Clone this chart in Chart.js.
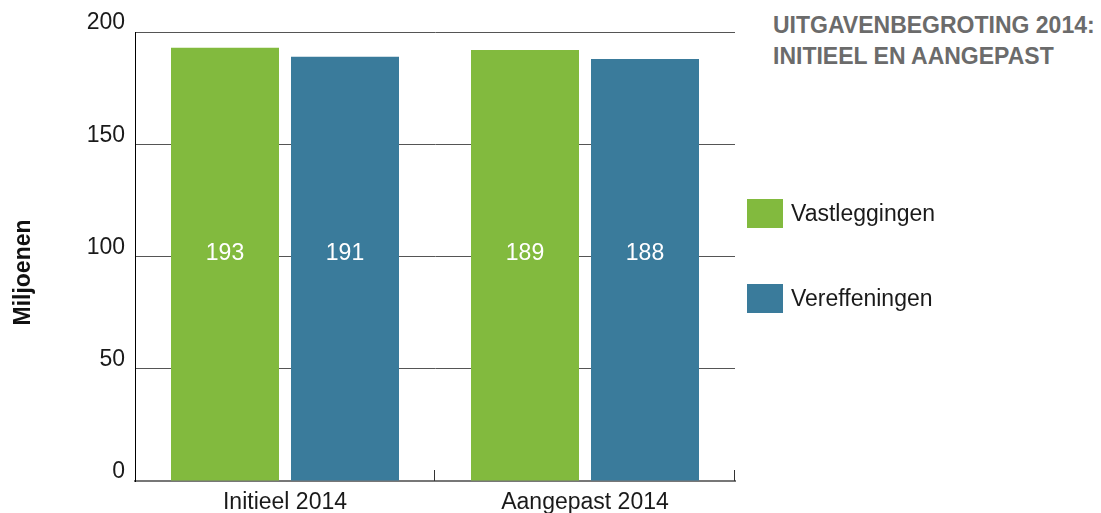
<!DOCTYPE html>
<html>
<head>
<meta charset="utf-8">
<script src="https://cdn.jsdelivr.net/npm/chart.js@4/dist/chart.umd.min.js"></script>
<style>
  body { margin: 0; width: 1101px; height: 513px; background: #fff; position: relative; overflow: hidden;
         font-family: 'Liberation Sans', Arial, sans-serif; }
  #wrap { position: absolute; left: 0; top: 0; width: 760px; height: 513px; }
  #title { position: absolute; left: 773px; top: 10px; font-size: 23px; line-height: 31px; font-weight: bold; color: #6b6b6b; }
  .item { position: absolute; left: 747px; display: flex; align-items: center; font-size: 23px; color: #1a1a1a; }
  .item span.box { width: 36px; height: 29px; margin-right: 8px; display: inline-block; }
</style>
</head>
<body>
<div id="wrap"><canvas id="chart" width="760" height="513"></canvas></div>
<div id="title">UITGAVENBEGROTING 2014:<br>INITIEEL EN AANGEPAST</div>
<div id="legend"></div>
<script>
const categories = ['Initieel 2014', 'Aangepast 2014'];
const seriesNames = ['Vastleggingen', 'Vereffeningen'];
const vastleggingen = [193, 192];
const vereffeningen = [189, 188];
const vastleggingenLabels = ['193', '189'];
const vereffeningenLabels = ['191', '188'];
const yTicks = [0, 50, 100, 150, 200];
const yTitle = 'Miljoenen';

const GREEN = '#82ba3e';
const BLUE = '#3a7b9b';
const FONT = "'Liberation Sans', Arial, sans-serif";

// html legend on the right
const legendEl = document.getElementById('legend');
[[seriesNames[0], GREEN, 199], [seriesNames[1], BLUE, 284]].forEach(([name, color, top]) => {
  const d = document.createElement('div');
  d.className = 'item';
  d.style.top = top + 'px';
  d.innerHTML = '<span class="box" style="background:' + color + '"></span>' + name;
  legendEl.appendChild(d);
});

// white numbers inside the bars, all on one line
const valueLabels = {
  id: 'valueLabels',
  afterDatasetsDraw(chart) {
    const { ctx, chartArea } = chart;
    const texts = [vastleggingenLabels, vereffeningenLabels];
    const y = (chartArea.top + chartArea.bottom) / 2 - 3;
    ctx.save();
    ctx.font = '23px ' + FONT;
    ctx.fillStyle = '#fff';
    ctx.textAlign = 'center';
    ctx.textBaseline = 'middle';
    chart.data.datasets.forEach((ds, i) => {
      chart.getDatasetMeta(i).data.forEach((bar, j) => {
        ctx.fillText(texts[i][j], bar.x, y);
      });
    });
    ctx.restore();
  }
};

// small upward ticks between categories + rotated y title
const extras = {
  id: 'extras',
  afterDraw(chart) {
    const { ctx, chartArea } = chart;
    const x = chart.scales.x;
    const base = chartArea.bottom;
    ctx.save();
    ctx.strokeStyle = '#333';
    ctx.lineWidth = 1;
    for (let i = 0; i < categories.length; i++) {
      const px = Math.round(x.getPixelForValue(i + 0.5)) - 0.5;
      ctx.beginPath();
      ctx.moveTo(px, base);
      ctx.lineTo(px, base - 11);
      ctx.stroke();
    }
    ctx.translate(24, (chartArea.top + chartArea.bottom) / 2 + 16);
    ctx.rotate(-Math.PI / 2);
    ctx.font = 'bold 23px ' + FONT;
    ctx.fillStyle = '#111';
    ctx.textAlign = 'center';
    ctx.textBaseline = 'middle';
    ctx.fillText(yTitle, 0, 0);
    ctx.restore();
  }
};

new Chart(document.getElementById('chart'), {
  type: 'bar',
  data: {
    labels: categories,
    datasets: [
      { label: seriesNames[0], data: vastleggingen, backgroundColor: GREEN,
        categoryPercentage: 0.8, barPercentage: 0.9 },
      { label: seriesNames[1], data: vereffeningen, backgroundColor: BLUE,
        categoryPercentage: 0.8, barPercentage: 0.9 }
    ]
  },
  options: {
    responsive: false,
    animation: false,
    devicePixelRatio: 1,
    layout: { padding: { top: 32, right: 25, left: 0, bottom: 0 } },
    plugins: { legend: { display: false }, tooltip: { enabled: false } },
    scales: {
      x: {
        z: 1,
        grid: { display: false, drawTicks: false },
        border: { display: true, color: '#777', width: 2 },
        ticks: { color: '#1a1a1a', padding: 8, font: { family: FONT, size: 23 } },
        afterFit(scale) { scale.height = 32; }
      },
      y: {
        min: 0,
        max: 200,
        afterBuildTicks(scale) { scale.ticks = yTicks.map(v => ({ value: v })); },
        grid: { color: '#555', lineWidth: 1, drawTicks: false },
        border: { display: true, color: '#000', width: 1 },
        ticks: { color: '#1a1a1a', padding: 10, labelOffset: -9, font: { family: FONT, size: 23 } },
        afterFit(scale) { scale.width = 135; }
      }
    }
  },
  plugins: [valueLabels, extras]
});
</script>
</body>
</html>
